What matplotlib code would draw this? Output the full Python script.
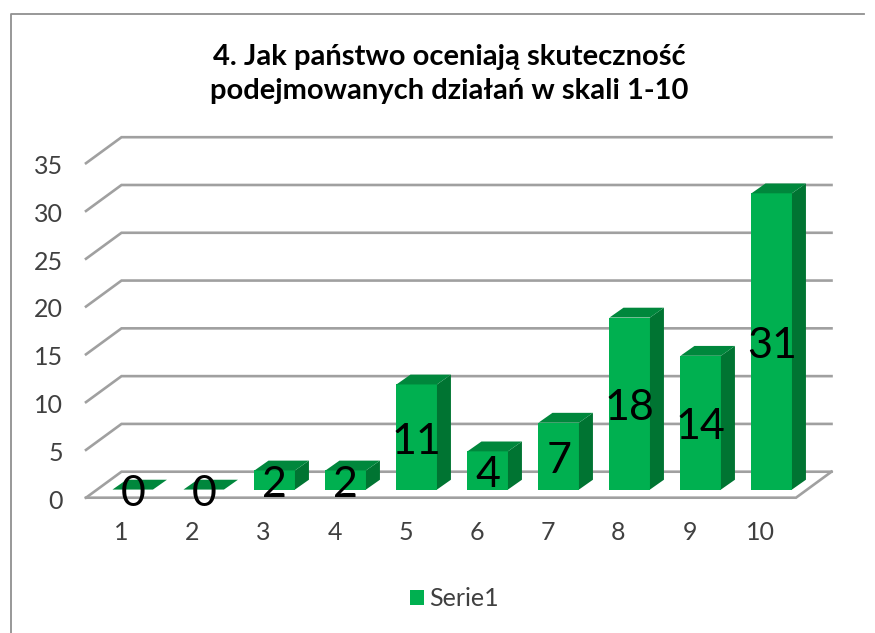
import matplotlib
matplotlib.use('Agg')
import matplotlib.pyplot as plt
from matplotlib.patches import Polygon, Rectangle
from matplotlib.lines import Line2D
from matplotlib.transforms import ScaledTranslation

categories = ['1', '2', '3', '4', '5', '6', '7', '8', '9', '10']
values = [0, 0, 2, 2, 11, 4, 7, 18, 14, 31]
y_ticks = [0, 5, 10, 15, 20, 25, 30, 35]
title = '4. Jak państwo oceniają skuteczność\npodejmowanych działań w skali 1-10'
series_name = 'Serie1'

W, H = 875, 633
plt.rcParams['font.family'] = ['Lato', 'DejaVu Sans']

fig = plt.figure(figsize=(W / 100, H / 100), dpi=100)

# axes = front face of the fake 3d box
left, right, top, bottom = 86, 796, 163.2, 497.7
ax = fig.add_axes([left / W, 1 - bottom / H, (right - left) / W, (bottom - top) / H])
ax.set_xlim(0.5, 10.5)
ax.set_ylim(0, 35)
ax.patch.set_alpha(0)
for s in ax.spines.values():
    s.set_visible(False)

# depth of the box in data units
depth_x = 0.5
depth_y = 2.72
grid_c = '#a0a0a0'

# chart frame
fig.add_artist(Line2D([10.5 / W, 10.5 / W, 864 / W], [0, 1 - 14 / H, 1 - 14 / H],
                      color='#909090', lw=1.3))

# grid lines, going back from the front left edge
for t in y_ticks:
    ax.plot([0.5, 0.5 + depth_x, 10.5 + depth_x], [t, t + depth_y, t + depth_y],
            color=grid_c, lw=1.9, clip_on=False, solid_joinstyle='miter', zorder=1)
# floor
ax.plot([0.5, 10.5, 10.5 + depth_x], [0, 0, depth_y], color=grid_c, lw=1.9,
        clip_on=False, solid_joinstyle='miter', zorder=1)

# bars, front face sits a bit inside the floor
front_dx, front_dy = 0.158, 0.85
back_dx, back_dy = 0.197, 1.03
bar_w = 0.57
for i, v in enumerate(values):
    x0 = i + 1 - bar_w / 2 + front_dx
    x1 = x0 + bar_w
    y0 = front_dy
    y1 = front_dy + v
    if v > 0:
        ax.add_patch(Rectangle((x0, y0), bar_w, v, fc='#00b050', ec='none', clip_on=False, zorder=3))
        ax.add_patch(Polygon([(x1, y0), (x1 + back_dx, y0 + back_dy), (x1 + back_dx, y1 + back_dy), (x1, y1)],
                             fc='#007432', ec='none', clip_on=False, zorder=3))
    ax.add_patch(Polygon([(x0, y1), (x1, y1), (x1 + back_dx, y1 + back_dy), (x0 + back_dx, y1 + back_dy)],
                         fc='#00873c', ec='none', clip_on=False, zorder=3))
    ax.text((x0 + x1) / 2, y0 + v / 2 - 0.5, str(v), ha='center', va='center', fontsize=31,
            color='black', zorder=5)

ax.set_xticks(range(1, 11))
ax.set_xticklabels(categories, fontsize=18, color='#404040')
ax.set_yticks(y_ticks)
ax.set_yticklabels([str(t) for t in y_ticks], fontsize=18, color='#404040')
ax.tick_params(axis='both', length=0)
ax.tick_params(axis='x', pad=17)
ax.tick_params(axis='y', pad=16.5)
for lab in ax.get_yticklabels():
    lab.set_transform(lab.get_transform() + ScaledTranslation(0, -1 / 72, fig.dpi_scale_trans))

fig.text(449.5 / W, 1 - 74 / H, title, ha='center', va='center', fontsize=21, fontweight='bold',
         color='black', linespacing=1.35)

handle = Rectangle((0, 0), 1, 1, fc='#00b050', ec='none')
fig.legend([handle], [series_name], loc='center', bbox_to_anchor=(454.5 / W, 1 - 598.5 / H),
           frameon=False, fontsize=18, handlelength=0.55, handleheight=0.55, handletextpad=0.2,
           labelcolor='#404040')

fig.savefig('out.png', dpi=100)
